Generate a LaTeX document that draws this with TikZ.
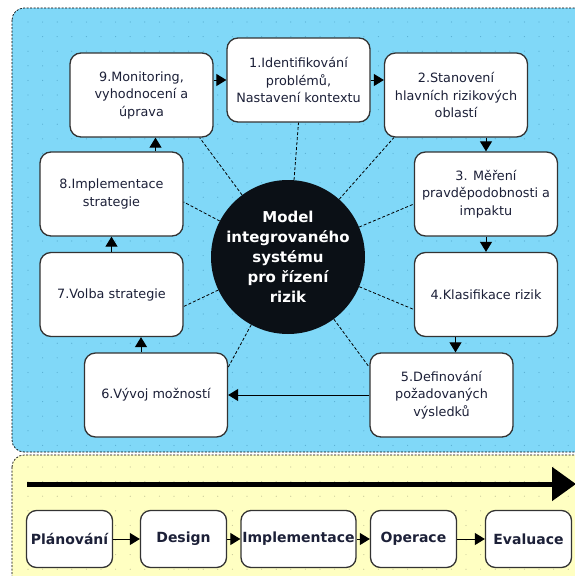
\documentclass[tikz,border=0pt]{standalone}
\usepackage{fontspec}
\setmainfont{DejaVu Sans}
\usetikzlibrary{arrows.meta,shapes}
\definecolor{panelblue}{HTML}{80D8F8}
\definecolor{panelyellow}{HTML}{FFFFC2}
\definecolor{bluedot}{HTML}{5AAFD2}
\definecolor{yellowdot}{HTML}{C8C89A}
\definecolor{hubblack}{HTML}{0B1016}
\definecolor{boxtext}{HTML}{1C2038}
\tikzstyle{panel}=[draw=black,dash pattern=on 2pt off 1.5pt,line width=0.7pt,rounded corners=12pt]
\tikzstyle{stepbox}=[rectangle,rounded corners=11pt,draw=black!80,line width=1.3pt,fill=white,minimum width=143pt,minimum height=84pt,inner sep=2pt,align=center,text=boxtext,font=\fontsize{12.8}{17.5}\selectfont]
\tikzstyle{phasebox}=[rectangle,rounded corners=10pt,draw=black!80,line width=1.3pt,fill=white,minimum width=86pt,minimum height=57pt,inner sep=1pt,text=boxtext,font=\fontsize{14}{16}\selectfont\bfseries]
\tikzstyle{hub}=[circle,fill=hubblack,minimum size=154pt,inner sep=-16pt,align=center,text=white,font=\fontsize{15}{20}\selectfont\bfseries]
\tikzstyle{spoke}=[black,dash pattern=on 3pt off 2pt,line width=0.8pt]
\tikzstyle{flow}=[-{Triangle[length=10pt,width=12pt]},line width=1pt]

\begin{document}
\begin{tikzpicture}[x=1pt,y=-1pt]
\useasboundingbox (0,0) rectangle (575,576);
\clip (0,0) rectangle (575,576);
% panels with dotted grid
\filldraw[panel,fill=panelblue] (12,8) rectangle (600,452);
\filldraw[panel,fill=panelyellow] (12,455) rectangle (600,610);
\begin{scope}
\clip[rounded corners=12pt] (12,8) rectangle (600,452);
\foreach \i in {0,...,38} \foreach \j in {0,...,29} \fill[bluedot] (28+\i*14.6,22+\j*14.6) circle (0.6pt);
\end{scope}
\begin{scope}
\clip[rounded corners=12pt] (12,455) rectangle (600,610);
\foreach \i in {0,...,38} \foreach \j in {0,...,7} \fill[yellowdot] (28+\i*14.6,467+\j*14.6) circle (0.6pt);
\end{scope}
% hub and spokes
\node[hub] (hub) at (288,257) {Model\\integrovaného\\systému\\pro řízení\\rizik};
\node[stepbox] (b1) at (298.5,80) {1.Identifikování\\problémů,\\Nastavení kontextu};
\node[stepbox] (b2) at (456,95) {2.Stanovení\\hlavních rizikových\\oblastí};
\node[stepbox] (b3) at (486,194) {3. Měření\\pravděpodobnosti a\\impaktu};
\node[stepbox] (b4) at (486,294.5) {4.Klasifikace rizik};
\node[stepbox] (b5) at (441.5,395) {5.Definování\\požadovaných\\výsledků};
\node[stepbox] (b6) at (156,395) {6.Vývoj možností};
\node[stepbox] (b7) at (111.5,294.5) {7.Volba strategie};
\node[stepbox] (b8) at (111.5,194) {8.Implementace\\strategie};
\node[stepbox] (b9) at (141.5,95) {9.Monitoring,\\vyhodnocení a\\úprava};
\draw[spoke] (hub)--(b1.south);
\draw[spoke] (hub)--([xshift=10pt]b2.south west);
\draw[spoke] (hub)--([yshift=-10pt]b3.west);
\draw[spoke] (hub)--([yshift=-15pt]b4.west);
\draw[spoke] (hub)--([yshift=-15pt]b5.north west);
\draw[spoke] (hub)--([yshift=-15pt]b6.north east);
\draw[spoke] (hub)--([yshift=-12pt]b7.east);
\draw[spoke] (hub)--([yshift=-8pt]b8.east);
\draw[spoke] (hub)--([xshift=-14pt]b9.south east);
% cycle arrows
\draw[flow] (b9.east |- b1.west)--(b1.west);
\draw[flow] (b1.east)--(b2.west |- b1.east);
\draw[flow] (b2.south -| b3.north)--(b3.north);
\draw[flow] (b3.south)--(b4.north);
\draw[flow] ([xshift=14pt]b5.north |- b4.south)--([xshift=14pt]b5.north);
\draw[flow] (b5.west)--(b6.east);
\draw[flow] ([xshift=-15pt]b6.north)--([xshift=-15pt]b6.north |- b7.south);
\draw[flow] (b7.north)--(b8.south);
\draw[flow] ([xshift=14pt]b9.south |- b8.north)--([xshift=14pt]b9.south);
% life cycle
\coordinate (tstart) at (27,484);
\coordinate (tend) at (576,484);
\draw[-{Triangle[length=24pt,width=33pt]},line width=5pt] (tstart)--(tend);
\node[phasebox] (p1) at (69.5,539) {Plánování};
\node[phasebox] (p2) at (183.5,539) {Design};
\node[phasebox,minimum width=115pt] (p3) at (298.5,539) {Implementace};
\node[phasebox] (p4) at (413.5,539) {Operace};
\node[phasebox] (p5) at (528.5,539) {Evaluace};
\draw[flow] (p1)--(p2);\draw[flow] (p2)--(p3);\draw[flow] (p3)--(p4);\draw[flow] (p4)--(p5);
\end{tikzpicture}
\end{document}
